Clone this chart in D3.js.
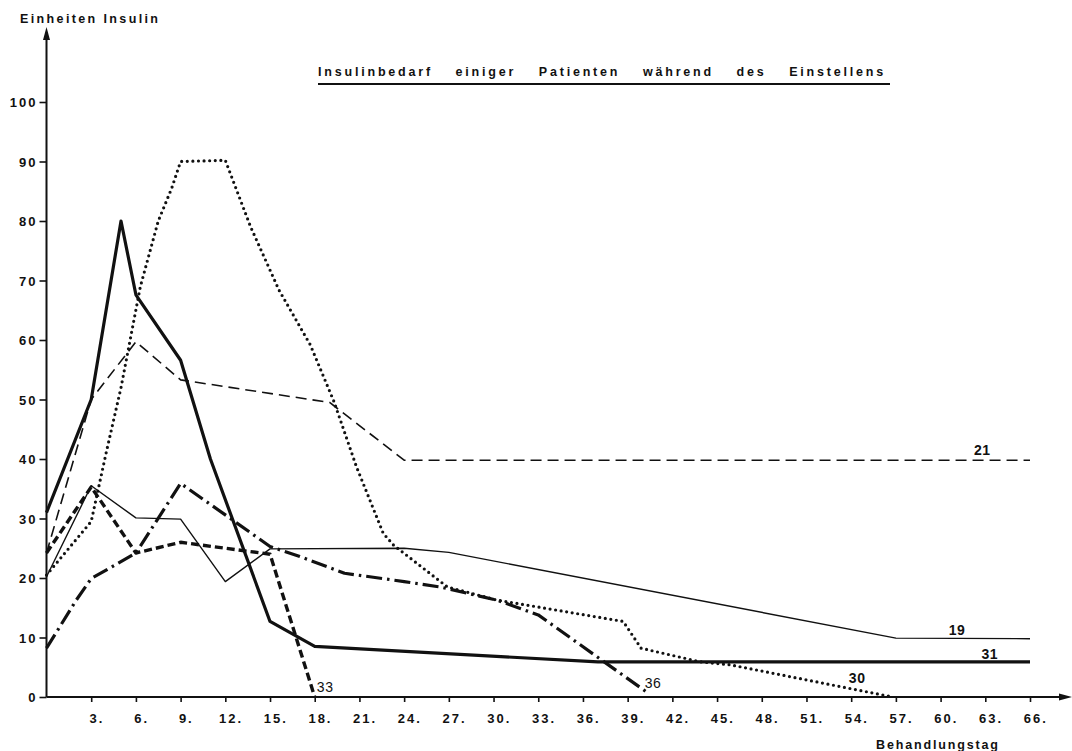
<!DOCTYPE html>
<html>
<head>
<meta charset="utf-8">
<script src="https://cdn.jsdelivr.net/npm/d3@7"></script>
<style>
  body { margin: 0; background: #fff; }
  svg { display: block; font-family: "Liberation Sans", Arial, sans-serif; }
</style>
</head>
<body>
<svg id="chart" width="1072" height="751"></svg>
<script>
const days19 = [0, 3, 6, 9, 12, 15, 24, 27, 57, 66];
const units19 = [20.2, 35.5, 30.1, 29.9, 19.4, 24.9, 25, 24.3, 9.9, 9.8];

const days21 = [0, 3, 6, 9, 19, 24, 66];
const units21 = [24.2, 50, 59.7, 53.3, 49.5, 39.8, 39.8];

const days30 = [0, 3, 4, 5, 6.3, 7.5, 8.4, 9, 12, 13.7, 15.6, 17.7, 19.3, 20.8, 22.6, 23.3, 26.9, 30.2, 38.7, 39.9, 43.9, 45.9, 56.8];
const units30 = [20.5, 29.5, 41, 52, 69, 80, 85.5, 90, 90.2, 79, 68.4, 59.2, 49.6, 38.7, 27.5, 25.5, 18.5, 16.3, 12.7, 8.2, 5.9, 5.4, 0];

const days31 = [0, 3, 5, 6, 9, 11, 15, 18, 37, 66];
const units31 = [31, 50, 80, 67.6, 56.6, 40, 12.7, 8.5, 5.9, 5.9];

const days33 = [0, 3, 6, 9, 12, 15, 18];
const units33 = [24.2, 35.3, 24.2, 26, 25, 24, 0];

const days36 = [0, 2, 3, 6, 9, 12, 15, 17, 20, 24, 26.4, 30.2, 33, 40.4];
const units36 = [8.2, 16.3, 19.9, 24.2, 35.9, 30.6, 25.3, 23.6, 20.8, 19.4, 18.5, 16.3, 13.8, 0.6];

const patients = ["19", "21", "30", "31", "33", "36"];
// Stelle der Patientennummer im Diagramm (Tag, Einheiten)
const labelDays = [61.1, 62.8, 54.4, 63.3, 18.7, 40.7];
const labelUnits = [11.3, 41.6, 3.2, 7.2, 1.7, 2.4];

const dayTicks = [3, 6, 9, 12, 15, 18, 21, 24, 27, 30, 33, 36, 39, 42, 45, 48, 51, 54, 57, 60, 63, 66];
const unitTicks = [0, 10, 20, 30, 40, 50, 60, 70, 80, 90, 100];

const title = "Insulinbedarf einiger Patienten während des Einstellens";
const yTitle = "Einheiten Insulin";
const xTitle = "Behandlungstag";

const series = {
  "19": d3.zip(days19, units19),
  "21": d3.zip(days21, units21),
  "30": d3.zip(days30, units30),
  "31": d3.zip(days31, units31),
  "33": d3.zip(days33, units33),
  "36": d3.zip(days36, units36)
};

// Linienarten wie im Original
const lineStyle = {
  "19": { width: 1.4, dash: null, cap: "butt" },
  "21": { width: 1.6, dash: "11 6", cap: "butt" },
  "30": { width: 3.2, dash: "0 5.6", cap: "round" },
  "31": { width: 3.2, dash: null, cap: "butt" },
  "33": { width: 3.4, dash: "8 4", cap: "butt" },
  "36": { width: 3.2, dash: "16 5 2.5 5", cap: "butt" }
};
const labelBold = { "19": true, "21": true, "30": true, "31": true, "33": false, "36": false };

const ink = "#111";

const x = d3.scaleLinear().domain([0, 66]).range([46.5, 1030]);
const y = d3.scaleLinear().domain([0, 100]).range([697, 102]);

const svg = d3.select("#chart");

svg.append("rect").attr("width", 1072).attr("height", 751).attr("fill", "#fff");

const line = d3
  .line()
  .x(d => x(d[0]))
  .y(d => y(d[1]))
  .curve(d3.curveLinear);

// Achsen
const yAxis = d3
  .axisLeft(y)
  .tickValues(unitTicks)
  .tickSize(7)
  .tickPadding(2)
  .tickFormat(d => d);

const xAxis = d3
  .axisBottom(x)
  .tickValues(dayTicks)
  .tickSize(5)
  .tickPadding(12)
  .tickFormat(d => d + ".");

const gy = svg
  .append("g")
  .attr("transform", `translate(${x(0)},0)`)
  .call(yAxis);

const gx = svg
  .append("g")
  .attr("transform", `translate(0,${y(0)})`)
  .call(xAxis);

[gx, gy].forEach(g => {
  g.select(".domain").remove();
  g.selectAll(".tick line").attr("stroke", ink).attr("stroke-width", 1.6);
  g.selectAll(".tick text")
    .attr("fill", ink)
    .attr("font-size", 13)
    .attr("font-weight", "bold")
    .attr("letter-spacing", 2);
});
gy.selectAll(".tick text").attr("dy", "0.36em");
gx.selectAll(".tick text").attr("dx", "0.4em");

// Achsenlinien mit Pfeilspitzen
const axes = svg.append("g").attr("stroke", ink).attr("stroke-width", 2);
axes
  .append("line")
  .attr("x1", x(0))
  .attr("x2", x(0))
  .attr("y1", y(0))
  .attr("y2", 36);
axes
  .append("line")
  .attr("x1", x(0))
  .attr("x2", 1064)
  .attr("y1", y(0))
  .attr("y2", y(0));

svg
  .append("path")
  .attr("fill", ink)
  .attr("d", `M${x(0)},27 L${x(0) - 3.5},40 L${x(0) + 3.5},40 Z`);
svg
  .append("path")
  .attr("fill", ink)
  .attr("d", `M1072,${y(0)} L1059,${y(0) - 3.5} L1059,${y(0) + 3.5} Z`);

// Kurven
svg
  .append("g")
  .attr("fill", "none")
  .attr("stroke", ink)
  .attr("stroke-linejoin", "round")
  .selectAll("path")
  .data(patients)
  .join("path")
  .attr("d", p => line(series[p]))
  .attr("stroke-width", p => lineStyle[p].width)
  .attr("stroke-dasharray", p => lineStyle[p].dash)
  .attr("stroke-linecap", p => lineStyle[p].cap);

// Patientennummern
svg
  .append("g")
  .selectAll("text")
  .data(patients)
  .join("text")
  .attr("x", (p, i) => x(labelDays[i]))
  .attr("y", (p, i) => y(labelUnits[i]))
  .attr("dy", "0.36em")
  .attr("text-anchor", "middle")
  .attr("font-size", 14)
  .attr("letter-spacing", 0.5)
  .attr("font-weight", p => (labelBold[p] ? "bold" : "normal"))
  .attr("fill", ink)
  .text(p => p);

// Titel: weite Sperrung, Wortabstand so gewählt, dass er über die Unterstreichung reicht
const titleText = svg
  .append("text")
  .attr("x", 318)
  .attr("y", 76)
  .attr("font-size", 12.5)
  .attr("font-weight", "bold")
  .attr("letter-spacing", 2.8)
  .attr("fill", ink)
  .text(title);

const titleWidth = titleText.node().getComputedTextLength();
const gaps = title.split(" ").length - 1;
titleText.attr("word-spacing", Math.max(0, (568 - titleWidth) / gaps));

svg
  .append("line")
  .attr("x1", 318)
  .attr("x2", 890)
  .attr("y1", 84)
  .attr("y2", 84)
  .attr("stroke", ink)
  .attr("stroke-width", 2);

svg
  .append("text")
  .attr("x", 20)
  .attr("y", 23)
  .attr("font-size", 12.5)
  .attr("font-weight", "bold")
  .attr("fill", ink)
  .attr("textLength", 138)
  .attr("lengthAdjust", "spacing")
  .text(yTitle);

svg
  .append("text")
  .attr("x", 876)
  .attr("y", 749)
  .attr("font-size", 12.5)
  .attr("font-weight", "bold")
  .attr("fill", ink)
  .attr("textLength", 122)
  .attr("lengthAdjust", "spacing")
  .text(xTitle);
</script>
</body>
</html>
